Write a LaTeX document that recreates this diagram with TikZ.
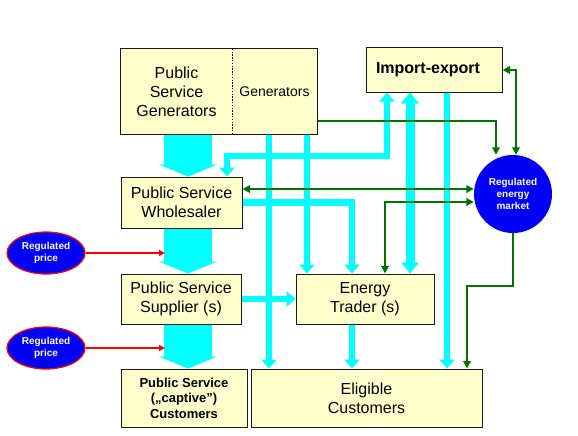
\documentclass[tikz,border=0pt]{standalone}
\usepackage{fontspec}
\setmainfont{Liberation Sans}
\usetikzlibrary{arrows.meta,calc,shapes.geometric}
\definecolor{boxfill}{RGB}{255,255,204}
\definecolor{aqua}{RGB}{0,255,255}
\definecolor{dgreen}{RGB}{0,115,0}
\definecolor{mblue}{RGB}{0,0,245}
\pgfdeclarelayer{bg}
\pgfsetlayers{bg,main}
\begin{document}
\begin{tikzpicture}[x=1pt,y=-1pt,
  boxborder/.style={draw=black!90, line width=1pt},
  box/.style={boxborder, fill=boxfill, align=center, inner sep=0pt, font=\fontsize{16}{19}\selectfont},
  cyanl/.style={draw=aqua, line width=6.5pt, >={Triangle[width=15pt,length=9pt]}},
  cyanthick/.style={draw=aqua, line width=9pt, >={Triangle[width=17pt,length=11pt]}},
  blockarr/.style={draw=aqua, line width=48pt, -{Triangle[width=58pt,length=12pt]}},
  greenl/.style={draw=dgreen, line width=2.2pt, >={Triangle[width=7.5pt,length=7.5pt]}},
  redl/.style={draw=red, line width=1.3pt, >={Triangle[width=6pt,length=6pt]}},
  pricebox/.style={ellipse, draw=red, line width=1.2pt, fill=mblue, text=white, inner sep=0pt,
     minimum width=78pt, minimum height=42pt, align=center, font=\bfseries\fontsize{10}{12}\selectfont},
  ]
\useasboundingbox (0,0) rectangle (578,436);

% generators box
\node[fill=boxfill, minimum width=111pt, minimum height=85pt, inner sep=0pt, align=center,
      font=\fontsize{16}{19}\selectfont] (psgen) at (176.5,91.5) {Public\\Service\\Generators};
\node[fill=boxfill, minimum width=85pt, minimum height=85pt, inner sep=0pt, align=center,
      font=\fontsize{14}{17}\selectfont] (gens) at (274.5,91.5) {Generators};
\draw[boxborder] (psgen.north west) rectangle (gens.south east);
\draw[line width=1.2pt, dash pattern=on 1.4pt off 1.4pt] (psgen.north east) -- (psgen.south east);

\node[boxborder, fill=boxfill, inner sep=0pt, minimum width=136pt, minimum height=44pt,
      font=\bfseries\fontsize{16}{19}\selectfont] (imex) at (434,70) {Import-export\kern12pt};
\node[circle, fill=mblue, minimum size=78pt, inner sep=0pt, text=white, align=center,
      font=\bfseries\fontsize{10}{12}\selectfont] (market) at (513,194) {Regulated\\energy\\market};

\node[box, minimum width=121pt, minimum height=51pt] (whole) at (181.5,202.5) {Public Service\\Wholesaler};
\node[box, minimum width=120pt, minimum height=50pt] (supp) at (181,299) {Public Service\\Supplier (s)};
\node[box, minimum width=138pt, minimum height=50pt] (trader) at (365,299) {Energy\\Trader (s)};
\node[box, minimum width=126pt, minimum height=58pt, font=\bfseries\fontsize{13}{15.5}\selectfont] (captive) at (184,398) {Public Service\\(„captive”)\\Customers};
\node[box, minimum width=231pt, minimum height=58pt] (elig) at (366.5,398) {Eligible\\Customers};

\node[pricebox] (price1) at (46,253) {Regulated\\price};
\node[pricebox] (price2) at (46,348) {Regulated\\price};

\begin{pgfonlayer}{bg}
% block arrows
\draw[blockarr] (188,0 |- psgen.south) -- (188,0 |- whole.north);
\draw[blockarr] (188,0 |- whole.south) -- (188,0 |- supp.north);
\draw[blockarr] (188,0 |- supp.south) -- (188,0 |- captive.north);

% cyan flows
\draw[cyanl,->] (269,0 |- gens.south) -- (269,0 |- elig.north);
\draw[cyanl,->] (307,0 |- gens.south) -- (307,0 |- trader.north);
\draw[cyanl,<->] (387,0 |- imex.south) |- (227,156) -- (227,0 |- whole.north);
\draw[cyanthick,<->] (410,0 |- imex.south) -- (410,0 |- trader.north);
\draw[cyanl,->] (447,0 |- imex.south) -- (447,0 |- elig.north);
\draw[cyanl,->] (whole.east) -| (352,0 |- trader.north);
\draw[cyanl,->] (supp.east) -- (trader.west);
\draw[cyanl,->] (352,0 |- trader.south) -- (352,0 |- elig.north);

% green flows
\draw[greenl,->] (gens.east |- 0,121) -| ([xshift=-17pt]market.north);
\draw[greenl,<->] (imex.east) -| ([xshift=3pt]market.north);
\draw[greenl,<->] (whole.east |- 0,189) -- (market.west |- 0,189);
\draw[greenl,<->] (385,0 |- trader.north) |- (market.west |- 0,202);
\draw[greenl,->] (market.south) |- (467,286) -- (467,0 |- elig.north);
\end{pgfonlayer}

% red arrows
\draw[redl,->] (price1.east) -- (165,0 |- price1.east);
\draw[redl,->] (price2.east) -- (165,0 |- price2.east);
\end{tikzpicture}
\end{document}
